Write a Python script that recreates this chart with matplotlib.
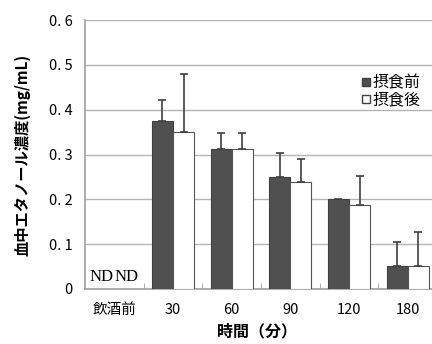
import numpy as np
import matplotlib
matplotlib.use("Agg")
import matplotlib.pyplot as plt

plt.rcParams['font.family'] = ['Noto Sans CJK JP', 'DejaVu Sans']

categories = ["飲酒前", "30", "60", "90", "120", "180"]
pre_vals = [np.nan, 0.375, 0.312, 0.250, 0.200, 0.051]
pre_err = [np.nan, 0.046, 0.036, 0.053, np.nan, 0.054]
post_vals = [np.nan, 0.350, 0.312, 0.238, 0.187, 0.051]
post_err = [np.nan, 0.130, 0.036, 0.052, 0.065, 0.076]
yticks = [0, 0.1, 0.2, 0.3, 0.4, 0.5, 0.6]
ytick_labels = ["0", "0. 1", "0. 2", "0. 3", "0. 4", "0. 5", "0. 6"]

fig = plt.figure(figsize=(4.32, 3.44), dpi=100)
ax = fig.add_axes([85 / 432, 1 - 289 / 344, 352 / 432, 269 / 344])

x = np.arange(len(categories))
w = 0.36
ax.bar(x - w / 2, pre_vals, w, color="#505050", edgecolor="#404040", linewidth=0.8, zorder=3)
ax.bar(x + w / 2, post_vals, w, color="white", edgecolor="#555555", linewidth=0.8, zorder=3)
zeros = np.zeros(len(x))
ax.errorbar(x - w / 2, pre_vals, yerr=[zeros, pre_err], fmt="none",
            ecolor="#404040", elinewidth=1.2, capsize=3, capthick=1.2, zorder=4)
ax.errorbar(x + w / 2, post_vals, yerr=[zeros, post_err], fmt="none",
            ecolor="#404040", elinewidth=1.2, capsize=3, capthick=1.2, zorder=4)

ax.set_xlim(-0.5, len(categories) - 0.5)
ax.set_ylim(0, 0.6)
ax.set_yticks(yticks)
ax.set_yticklabels(ytick_labels, fontsize=10.5)
ax.yaxis.grid(True, color="#b4b4b4", linewidth=1, zorder=0)
ax.set_axisbelow(True)
ax.tick_params(axis="y", length=0, pad=9)
for s in ["top", "right"]:
    ax.spines[s].set_visible(False)
for s in ["left", "bottom"]:
    ax.spines[s].set_color("#a0a0a0")
    ax.spines[s].set_linewidth(1.2)

ax.set_xticks(x)
ax.set_xticklabels(categories, fontsize=10.5)
ax.tick_params(axis="x", length=0, pad=10)
ax.set_xticks(x[1:] - 0.5, minor=True)
ax.tick_params(axis="x", which="minor", direction="in", length=4, color="#a0a0a0")

# ND labels for the baseline measurement
ax.text(-0.21, 0.01, "ND", family="Liberation Serif", fontsize=12, ha="center", va="bottom")
ax.text(0.21, 0.01, "ND", family="Liberation Serif", fontsize=12, ha="center", va="bottom")

h1 = plt.Line2D([], [], marker="s", color="none", markerfacecolor="#505050",
                markeredgecolor="#404040", markersize=6)
h2 = plt.Line2D([], [], marker="s", color="none", markerfacecolor="white",
                markeredgecolor="#404040", markersize=6)
ax.legend([h1, h2], ["摂食前", "摂食後"], loc="upper left", bbox_to_anchor=(0.77, 0.82),
          frameon=False, fontsize=11.5, handlelength=0.5, handletextpad=0.15,
          labelspacing=0.0, borderaxespad=0)

fig.text(257 / 432, 1 - 331 / 344, "時間（分）", fontsize=11.5, fontweight="bold",
         ha="center", va="center")
fig.text(22 / 432, 1 - 155 / 344, "血中エタノール濃度(mg/mL)", fontsize=11,
         fontweight="bold", rotation=90, ha="center", va="center")

fig.savefig("out.png", dpi=100)
